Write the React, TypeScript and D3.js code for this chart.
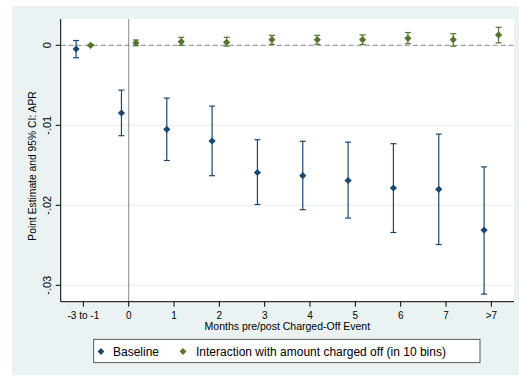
import React from "react";
import * as d3 from "d3";

// event-time bins (x position) and their labels
const bins = [-1, 0, 1, 2, 3, 4, 5, 6, 7, 8];
const binLabels = ["-3 to -1", "0", "1", "2", "3", "4", "5", "6", "7", ">7"];

// baseline estimates with 95% CI
const baseEst = [-0.00046, -0.00846, -0.0105, -0.01196, -0.0159, -0.0163, -0.0169, -0.01784, -0.018, -0.0231];
const baseHi = [0.0006, -0.0056, -0.0066, -0.0076, -0.0118, -0.012, -0.0121, -0.0123, -0.0111, -0.0152];
const baseLo = [-0.00155, -0.0113, -0.0144, -0.0163, -0.0199, -0.02055, -0.0216, -0.0234, -0.0249, -0.0311];

// interaction estimates with 95% CI
const interEst = [0, 0.0003, 0.00045, 0.00037, 0.0007, 0.0007, 0.0007, 0.00087, 0.0007, 0.0013];
const interHi = [0.00005, 0.00066, 0.001, 0.001, 0.00125, 0.00125, 0.0013, 0.0016, 0.00145, 0.00225];
const interLo = [-0.00005, -0.00005, 0, -0.0001, 0.00012, 0.00012, 0.0001, 0.0002, -0.00012, 0.0003];

const yTicks = [0, -0.01, -0.02, -0.03];
const yTickLabels = ["0", "-.01", "-.02", "-.03"];

const NAVY = "#1a476f";
const GREEN = "#55752f";
const BG = "#eaf2f3";
const FONT = "Arial, 'Liberation Sans', Helvetica, sans-serif";

const W = 519;
const H = 378;
const plot = { left: 60.7, right: 514, top: 19, bottom: 301.7 };

function Diamond({ cx, cy, r, fill }: { cx: number; cy: number; r: number; fill: string }) {
  return <path d={`M${cx},${cy - r}L${cx + r},${cy}L${cx},${cy + r}L${cx - r},${cy}Z`} fill={fill} />;
}

function Series({
  est, hi, lo, offset, color, capW,
  x, y,
}: {
  est: number[]; hi: number[]; lo: number[]; offset: number; color: string; capW: number;
  x: d3.ScaleLinear<number, number>; y: d3.ScaleLinear<number, number>;
}) {
  return (
    <g>
      {bins.map((b, i) => {
        const cx = x(b + offset);
        return (
          <g key={i}>
            <line x1={cx} x2={cx} y1={y(hi[i])} y2={y(lo[i])} stroke={color} strokeWidth={1.2} />
            <line x1={cx - capW} x2={cx + capW} y1={y(hi[i])} y2={y(hi[i])} stroke={color} strokeWidth={1.2} />
            <line x1={cx - capW} x2={cx + capW} y1={y(lo[i])} y2={y(lo[i])} stroke={color} strokeWidth={1.2} />
            <Diamond cx={cx} cy={y(est[i])} r={3.6} fill={color} />
          </g>
        );
      })}
    </g>
  );
}

export default function App() {
  const x = d3.scaleLinear().domain([-1.5, 8.5]).range([plot.left, plot.right]);
  const y = d3.scaleLinear().domain([0, -0.03]).range([45.3, 285.3]);

  return (
    <svg
      width={W}
      height={H}
      style={{ position: "absolute", left: 0, top: 0, fontFamily: FONT }}
    >
      <rect x={0} y={0} width={W} height={H} fill="#fff" />
      <rect x={12} y={6} width={W - 12} height={369} fill={BG} />
      <rect x={plot.left} y={plot.top} width={plot.right - plot.left} height={plot.bottom - plot.top} fill="#fff" />

      {/* grid lines */}
      {yTicks.slice(1).map((t) => (
        <line key={t} x1={plot.left} x2={plot.right} y1={y(t)} y2={y(t)} stroke={BG} strokeWidth={1.2} />
      ))}

      {/* reference lines */}
      <line x1={x(0)} x2={x(0)} y1={plot.top} y2={plot.bottom} stroke="#8a8a8a" strokeWidth={1} />
      <line x1={plot.left} x2={plot.right} y1={y(0)} y2={y(0)} stroke="#8a8a8a" strokeWidth={1} strokeDasharray="5,3" />

      <Series est={baseEst} hi={baseHi} lo={baseLo} offset={-0.16} color={NAVY} capW={3} x={x} y={y} />
      <Series est={interEst} hi={interHi} lo={interLo} offset={0.16} color={GREEN} capW={3} x={x} y={y} />

      {/* axes */}
      <line x1={plot.left} x2={plot.left} y1={plot.top} y2={plot.bottom} stroke="#000" strokeWidth={1} />
      <line x1={plot.left} x2={plot.right} y1={plot.bottom} y2={plot.bottom} stroke="#000" strokeWidth={1} />

      {yTicks.map((t, i) => (
        <g key={t}>
          <line x1={plot.left - 5} x2={plot.left} y1={y(t)} y2={y(t)} stroke="#000" />
          <text
            transform={`translate(${50.5},${y(t)}) rotate(-90)`}
            textAnchor="middle"
            fontSize={11}
            fill="#000"
          >
            {yTickLabels[i]}
          </text>
        </g>
      ))}

      {bins.map((b, i) => (
        <g key={b}>
          <line x1={x(b)} x2={x(b)} y1={plot.bottom} y2={plot.bottom + 5} stroke="#000" />
          <text x={x(b)} y={319} textAnchor="middle" fontSize={10} fill="#000">
            {binLabels[i]}
          </text>
        </g>
      ))}

      <text x={(plot.left + plot.right) / 2} y={329.5} textAnchor="middle" fontSize={10.5} fill="#000">
        Months pre/post Charged-Off Event
      </text>
      <text
        transform={`translate(36,166) rotate(-90)`}
        textAnchor="middle"
        fontSize={10.3}
        fill="#000"
      >
        Point Estimate and 95% CI: APR
      </text>

      {/* legend */}
      <rect x={93.7} y={339.3} width={386.3} height={23.4} fill="#fff" stroke="#333" strokeWidth={0.8} />
      <Diamond cx={101} cy={351.5} r={3.4} fill={NAVY} />
      <text x={113} y={355.8} fontSize={12} fill="#000">Baseline</text>
      <Diamond cx={183} cy={351.5} r={3.4} fill={GREEN} />
      <text x={196} y={355.8} fontSize={12} fill="#000">Interaction with amount charged off (in 10 bins)</text>
    </svg>
  );
}
